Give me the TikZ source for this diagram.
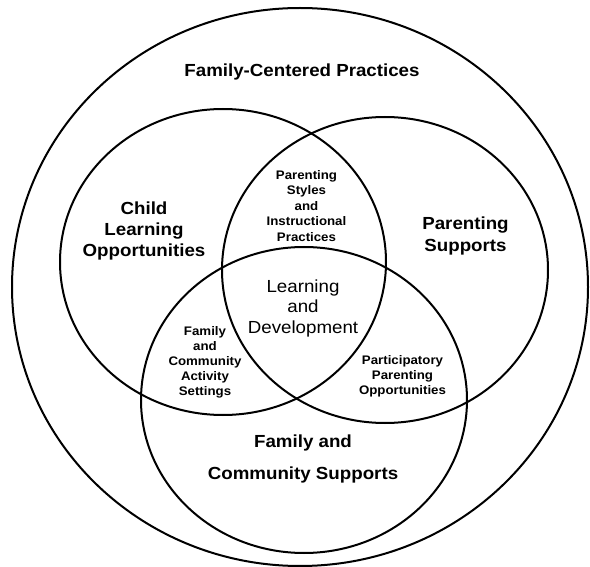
\documentclass[tikz,border=0pt]{standalone}
\usepackage{fontspec}
\setmainfont{Liberation Sans}[FakeStretch=1.07]
\begin{document}
\begin{tikzpicture}[x=1pt,y=-1pt,
  ring/.style={draw=black,line width=2pt},
  biglabel/.style={align=center,inner sep=0pt,font=\fontsize{17.5}{21}\selectfont\bfseries},
  midlabel/.style={align=center,inner sep=0pt,font=\fontsize{17.5}{20.5}\selectfont},
  smalllabel/.style={align=center,inner sep=0pt,font=\fontsize{12.4}{15}\selectfont\bfseries}]
\useasboundingbox (0,0) rectangle (590,567);
\fill[white] (0,0) rectangle (590,567);
% circles
\draw[ring] (300,287) ellipse [x radius=288pt, y radius=279pt];
\draw[ring] (223,262) ellipse [x radius=163pt, y radius=153pt];
\draw[ring] (385,270) ellipse [x radius=163pt, y radius=153pt];
\draw[ring] (304,400) ellipse [x radius=163pt, y radius=153pt];
% labels
\node[biglabel] (fcp) at (302,72) {Family-Centered Practices};
\node[biglabel] (clo) at (144,231) {Child\\Learning\\Opportunities};
\node[biglabel,font=\fontsize{17.5}{22}\selectfont\bfseries] (ps) at (465.5,236) {Parenting\\Supports};
\node[biglabel,font=\fontsize{17.5}{32}\selectfont\bfseries] (fcs) at (303,459) {Family and\\Community Supports};
\node[midlabel] (ld) at (303,308) {Learning\\and\\Development};
\node[smalllabel,font=\fontsize{12.4}{15.5}\selectfont\bfseries] (psip) at (306.5,206) {Parenting\\Styles\\and\\Instructional\\Practices};
\node[smalllabel] (fcas) at (205,362) {Family\\and\\Community\\Activity\\Settings};
\node[smalllabel] (ppo) at (402.5,376) {Participatory\\Parenting\\Opportunities};
\end{tikzpicture}
\end{document}
